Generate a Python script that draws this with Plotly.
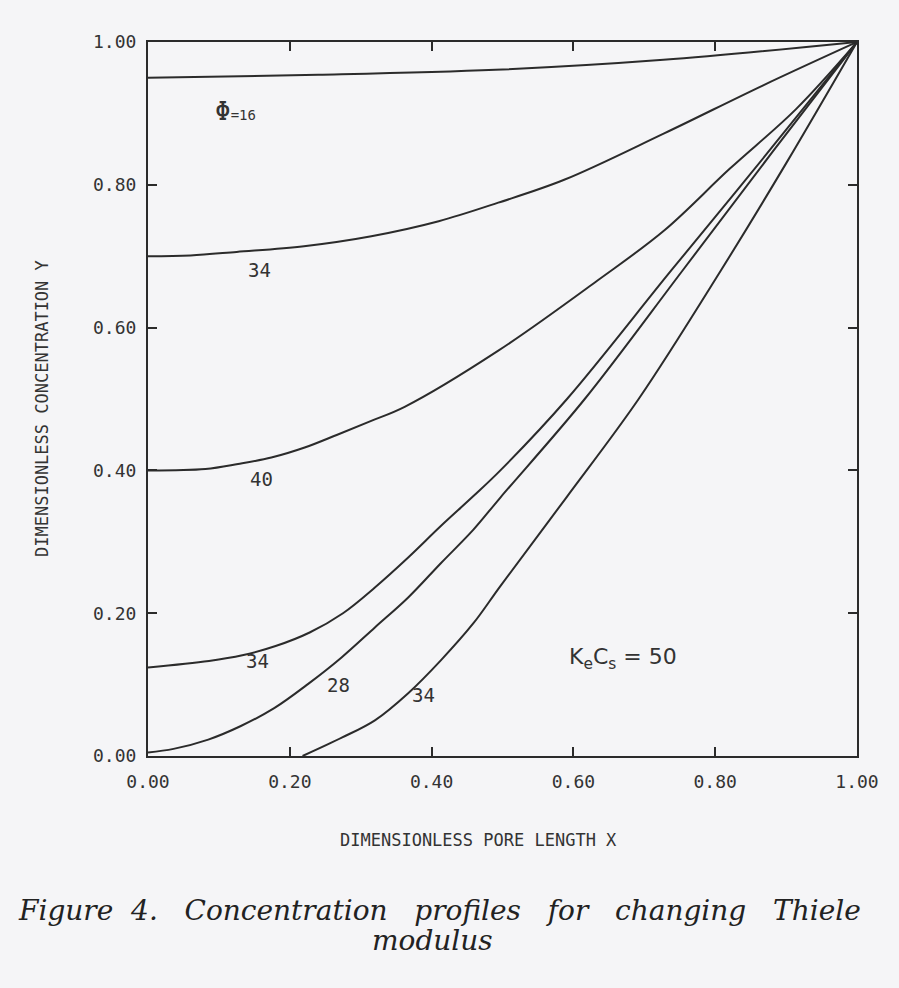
import plotly.graph_objects as go

# ---- data ----
x_phi16 = [0.0, 0.24, 0.49, 0.727, 1.0]
y_phi16 = [0.950, 0.954, 0.961, 0.975, 1.0]

x_34a = [0.0, 0.06, 0.125, 0.22, 0.315, 0.41, 0.494, 0.587, 0.728, 0.867, 1.0]
y_34a = [0.700, 0.701, 0.706, 0.714, 0.728, 0.749, 0.775, 0.807, 0.872, 0.939, 1.0]

x_40 = [0.0, 0.081, 0.127, 0.174, 0.221, 0.267, 0.314, 0.362, 0.493, 0.634, 0.728, 0.82, 0.914, 1.0]
y_40 = [0.400, 0.402, 0.409, 0.418, 0.432, 0.450, 0.469, 0.489, 0.567, 0.666, 0.736, 0.822, 0.906, 1.0]

x_34b = [0.0, 0.086, 0.133, 0.18, 0.228, 0.275, 0.32, 0.367, 0.413, 0.459, 0.497, 0.591, 0.738, 0.87, 1.0]
y_34b = [0.124, 0.133, 0.141, 0.154, 0.173, 0.200, 0.236, 0.278, 0.322, 0.364, 0.400, 0.500, 0.680, 0.840, 1.0]

x_28 = [0.0, 0.036, 0.085, 0.131, 0.178, 0.226, 0.273, 0.32, 0.367, 0.413, 0.459, 0.497, 0.616, 0.754, 0.88, 1.0]
y_28 = [0.005, 0.010, 0.023, 0.042, 0.067, 0.101, 0.138, 0.180, 0.222, 0.270, 0.317, 0.362, 0.500, 0.680, 0.845, 1.0]

x_34c = [0.218, 0.274, 0.32, 0.367, 0.413, 0.459, 0.497, 0.59, 0.692, 0.808, 0.90, 1.0]
y_34c = [0.0, 0.026, 0.050, 0.088, 0.134, 0.186, 0.238, 0.362, 0.500, 0.680, 0.830, 1.0]

tick_vals = [0.0, 0.2, 0.4, 0.6, 0.8, 1.0]
tick_text = ["0.00", "0.20", "0.40", "0.60", "0.80", "1.00"]

curve_labels = ["\u03a6=16", "34", "40", "34", "28", "34"]

INK = "#2b2b2b"
BG = "#f5f5f7"
MONO = "DejaVu Sans Mono"

fig = go.Figure()
series = [(x_phi16, y_phi16), (x_34a, y_34a), (x_40, y_40),
          (x_34b, y_34b), (x_28, y_28), (x_34c, y_34c)]
for xs, ys in series:
    fig.add_trace(go.Scatter(x=xs, y=ys, mode="lines",
                             line=dict(color=INK, width=2, shape="spline", smoothing=1.0),
                             cliponaxis=False, showlegend=False, hoverinfo="skip"))

axis_common = dict(range=[0, 1], tickvals=tick_vals, ticktext=tick_text,
                   showgrid=False, zeroline=False, showline=True, linecolor=INK,
                   linewidth=2, mirror="ticks", ticks="inside", ticklen=9,
                   tickwidth=2, tickcolor=INK,
                   tickfont=dict(family=MONO, size=18, color="#333"))

fig.update_xaxes(**axis_common, ticklabelstandoff=8)
fig.update_yaxes(**axis_common, ticklabelstandoff=6)

ann = []
lab_pos = [(0.124, 0.903), (0.157, 0.68), (0.16, 0.388), (0.155, 0.133), (0.268, 0.10), (0.388, 0.086)]
for (ax, ay), txt in zip(lab_pos, curve_labels):
    if txt.startswith("\u03a6"):
        txt = "<span style='font-size:26px'>\u03a6</span><span style='font-size:14px'>=16</span>"
    ann.append(dict(x=ax, y=ay, xref="x", yref="y", text=txt, showarrow=False,
                    font=dict(family=MONO, size=19, color="#333")))

ann.append(dict(x=0.67, y=0.136, xref="x", yref="y",
                text="K<sub>e</sub>C<sub>s</sub> = 50", showarrow=False,
                font=dict(family="DejaVu Sans", size=22, color="#333")))

# axis titles
ann.append(dict(x=478, y=988 - 840, xref="paper", yref="paper", text="DIMENSIONLESS PORE LENGTH X",
                showarrow=False, font=dict(family=MONO, size=17, color="#333")))
ann.append(dict(x=42, y=988 - 409, xref="paper", yref="paper", text="DIMENSIONLESS CONCENTRATION Y",
                showarrow=False, textangle=-90, font=dict(family=MONO, size=17, color="#333")))

# caption
ann.append(dict(x=439, y=988 - 910, xref="paper", yref="paper",
                text="Figure  4.   Concentration   profiles   for   changing   Thiele",
                showarrow=False, font=dict(family="DejaVu Serif", size=28, color="#222", style="italic")))
ann.append(dict(x=432, y=988 - 940, xref="paper", yref="paper", text="modulus",
                showarrow=False, font=dict(family="DejaVu Serif", size=28, color="#222", style="italic")))

# convert pixel-placed annotations to paper coords
L, R, T, B = 148, 42, 42, 232
W, H = 899 - L - R, 988 - T - B
for a in ann:
    a["xanchor"] = "center"
    a["yanchor"] = "middle"
    if a["xref"] == "paper":
        px, py_from_bottom = a["x"], a["y"]
        a["x"] = (px - L) / W
        a["y"] = (py_from_bottom - B) / H

fig.update_layout(width=899, height=988, margin=dict(l=L, r=R, t=T, b=B),
                  paper_bgcolor=BG, plot_bgcolor=BG, annotations=ann)

fig.write_html("out.html")
